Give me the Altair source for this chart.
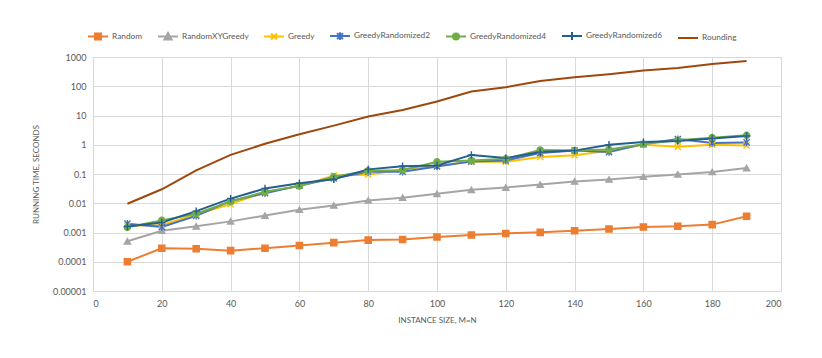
import altair as alt
import pandas as pd

# ---------------- data ----------------
sizes = [10, 20, 30, 40, 50, 60, 70, 80, 90, 100, 110, 120, 130, 140, 150, 160, 170, 180, 190]

series_names = ["Random", "RandomXYGreedy", "Greedy", "GreedyRandomized2",
                "GreedyRandomized4", "GreedyRandomized6", "Rounding"]

random_t = [0.0001, 0.00029, 0.00028, 0.00024, 0.00029, 0.00036, 0.00045, 0.00055, 0.00058, 0.00070,
            0.00082, 0.00093, 0.00101, 0.00115, 0.00131, 0.00154, 0.00163, 0.00186, 0.0036]
randomxy_t = [0.0005, 0.00115, 0.00163, 0.0024, 0.0038, 0.006, 0.0084, 0.0125, 0.0155, 0.021,
              0.0287, 0.0345, 0.0437, 0.0555, 0.065, 0.0805, 0.097, 0.117, 0.16]
greedy_t = [0.0017, 0.0018, 0.0041, 0.0093, 0.024, 0.039, 0.088, 0.095, 0.145, 0.19,
            0.26, 0.26, 0.38, 0.44, 0.62, 1.0, 0.85, 1.0, 0.95]
gr2_t = [0.0020, 0.00155, 0.0037, 0.012, 0.022, 0.04, 0.071, 0.12, 0.12, 0.18,
         0.27, 0.29, 0.52, 0.63, 0.56, 1.05, 1.56, 1.15, 1.2]
gr4_t = [0.0015, 0.0026, 0.0044, 0.0115, 0.025, 0.039, 0.08, 0.13, 0.135, 0.26,
         0.29, 0.33, 0.66, 0.64, 0.69, 1.05, 1.43, 1.75, 2.1]
gr6_t = [0.0016, 0.0022, 0.0054, 0.0144, 0.032, 0.048, 0.066, 0.144, 0.185, 0.195,
         0.45, 0.35, 0.56, 0.63, 1.0, 1.23, 1.35, 1.65, 2.0]
rounding_t = [0.0096, 0.030, 0.134, 0.45, 1.08, 2.3, 4.5, 9.2, 15.5, 30,
              66, 93, 152, 204, 259, 347, 418, 574, 728]

series_values = [random_t, randomxy_t, greedy_t, gr2_t, gr4_t, gr6_t, rounding_t]

colors = ["#ED7D31", "#A5A5A5", "#FFC000", "#4472C4", "#70AD47", "#255E91", "#9E480E"]

y_ticks = [0.00001, 0.0001, 0.001, 0.01, 0.1, 1, 10, 100, 1000]
x_ticks = [0, 20, 40, 60, 80, 100, 120, 140, 160, 180, 200]

rows = []
for name, vals in zip(series_names, series_values):
    for s, v in zip(sizes, vals):
        rows.append({"size": s, "time": v, "series": name})
df = pd.DataFrame(rows)

# marker shapes for the plotted points (Rounding has no marker)
marker_series = series_names[:6]
marker_colors = colors[:6]
marker_shapes = [
    "square",
    "triangle-up",
    "M-1,-1L1,1M-1,1L1,-1",
    "M-1,-1L1,1M-1,1L1,-1M0,-1.2V1.2",
    "circle",
    "M-1.2,0H1.2M0,-1.2V1.2",
]

# legend symbols: line segment + marker
legend_shapes = [
    "M-1,0H1M-0.3,-0.3H0.3V0.3H-0.3Z",
    "M-1,0H1M0,-0.35L0.35,0.3H-0.35Z",
    "M-1,0H1M-0.3,-0.3L0.3,0.3M-0.3,0.3L0.3,-0.3",
    "M-1,0H1M-0.3,-0.3L0.3,0.3M-0.3,0.3L0.3,-0.3M0,-0.38V0.38",
    "M-1,0H1M-0.3,0A0.3,0.3,0,1,0,0.3,0A0.3,0.3,0,1,0,-0.3,0",
    "M-1,0H1M0,-0.4V0.4",
    "M-1,0H1",
]

FONT = "Lato"
GRAY = "#595959"
GRID = "#D9D9D9"

x_enc = alt.X("size:Q",
              scale=alt.Scale(domain=[0, 200], nice=False, zero=False),
              axis=alt.Axis(values=x_ticks, title="INSTANCE SIZE, M=N", grid=True,
                            gridColor=GRID, domain=True, domainColor=GRID, ticks=False,
                            labelFont=FONT, labelFontSize=9, labelColor=GRAY, labelPadding=8,
                            titleFont=FONT, titleFontSize=8, titleFontWeight="normal",
                            titleColor=GRAY, titlePadding=8))
y_enc = alt.Y("time:Q",
              scale=alt.Scale(type="log", domain=[0.00001, 1000], nice=False),
              axis=alt.Axis(values=y_ticks, format=".5~f", title="RUNNING TIME, SECONDS",
                            grid=True, gridColor=GRID, domain=False, ticks=False,
                            labelFont=FONT, labelFontSize=9, labelColor=GRAY, labelPadding=7,
                            titleFont=FONT, titleFontSize=8, titleFontWeight="normal",
                            titleColor=GRAY, titlePadding=12))

lines = alt.Chart(df).mark_line(strokeWidth=2).encode(
    x=x_enc, y=y_enc,
    stroke=alt.Stroke("series:N", scale=alt.Scale(domain=series_names, range=colors), legend=None),
    detail="series:N",
)

points = alt.Chart(df).transform_filter(
    alt.datum.series != "Rounding"
).mark_point(size=38, strokeWidth=1.4, opacity=1).encode(
    x=x_enc, y=y_enc,
    fill=alt.Fill("series:N", scale=alt.Scale(domain=marker_series, range=marker_colors), legend=None),
    stroke=alt.Stroke("series:N", scale=alt.Scale(domain=marker_series, range=marker_colors), legend=None),
    shape=alt.Shape("series:N", scale=alt.Scale(domain=marker_series, range=marker_shapes), legend=None),
)

leg = alt.Legend(title=None, orient="none", direction="horizontal", legendX=-6, legendY=-32,
                 symbolSize=400, symbolStrokeWidth=2, labelFont=FONT, labelFontSize=8.3,
                 labelColor=GRAY, labelOffset=3, columnPadding=11, padding=0)

legend_layer = alt.Chart(df).transform_filter("false").mark_point(opacity=1).encode(
    x=x_enc, y=y_enc,
    fill=alt.Fill("series:N", scale=alt.Scale(domain=series_names, range=colors), legend=leg),
    stroke=alt.Stroke("series:N", scale=alt.Scale(domain=series_names, range=colors), legend=leg),
    shape=alt.Shape("series:N", scale=alt.Scale(domain=series_names, range=legend_shapes), legend=leg),
)

chart = alt.layer(lines, points, legend_layer).resolve_scale(
    fill="independent", stroke="independent", shape="independent"
).properties(
    width=688, height=234,
    autosize=alt.AutoSizeParams(type="none"),
    padding={"left": 85, "top": 49, "right": 33, "bottom": 59},
).configure_view(stroke=None).configure(background="white")

chart.save("out.html", embed_options={"renderer": "svg", "actions": False})
